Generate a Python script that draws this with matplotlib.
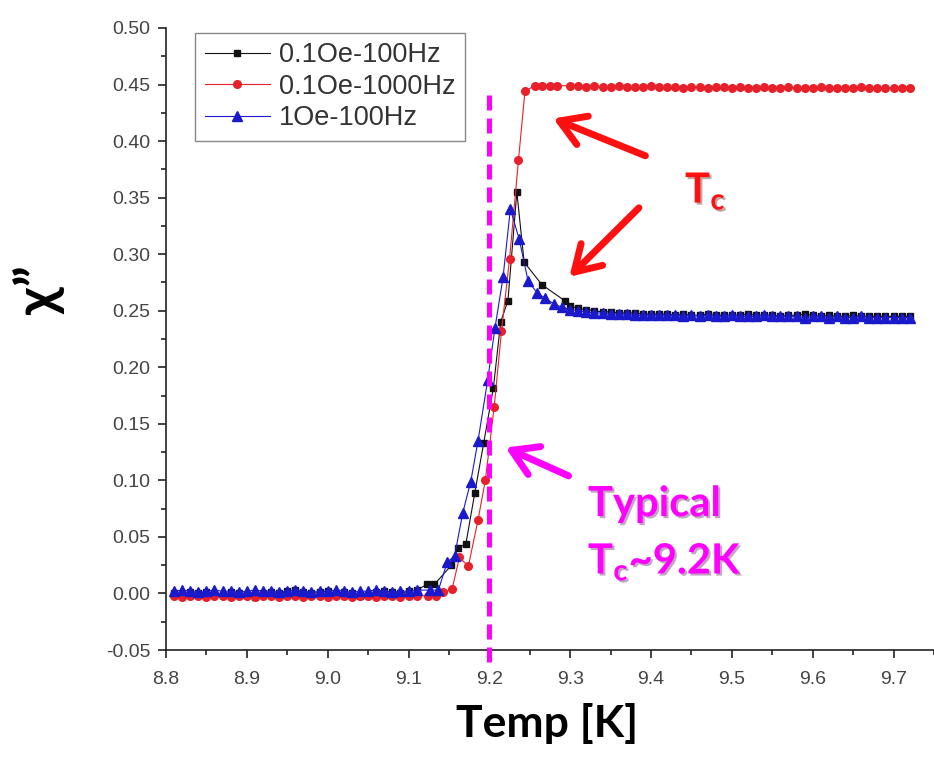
import matplotlib
matplotlib.use("Agg")
import matplotlib.pyplot as plt
import matplotlib.patheffects as pe
from matplotlib.ticker import MultipleLocator, FormatStrFormatter

# shared temperature grids (K) for the flat parts
t_low = [8.81, 8.82, 8.83, 8.84, 8.85, 8.86, 8.87, 8.88, 8.89, 8.90, 8.91,
         8.92, 8.93, 8.94, 8.95, 8.96, 8.97, 8.98, 8.99, 9.00, 9.01, 9.02,
         9.03, 9.04, 9.05, 9.06, 9.07, 9.08, 9.09, 9.10, 9.11]
t_high = [9.30, 9.31, 9.32, 9.33, 9.34, 9.35, 9.36, 9.37, 9.38, 9.39, 9.40,
          9.41, 9.42, 9.43, 9.44, 9.45, 9.46, 9.47, 9.48, 9.49, 9.50, 9.51,
          9.52, 9.53, 9.54, 9.55, 9.56, 9.57, 9.58, 9.59, 9.60, 9.61, 9.62,
          9.63, 9.64, 9.65, 9.66, 9.67, 9.68, 9.69, 9.70, 9.71, 9.72]

# 0.1Oe-100Hz
black_low = [0.000, -0.001, 0.001, 0.000, 0.001, 0.000, -0.001, 0.001, 0.000, -0.001, -0.003,
             0.000, 0.001, 0.000, 0.002, 0.003, 0.001, 0.000, 0.001, 0.002, 0.000, 0.001,
             0.000, -0.002, -0.001, 0.001, 0.002, 0.001, 0.000, 0.002, 0.003]
black_t_mid = [9.123, 9.132, 9.153, 9.161, 9.171, 9.182, 9.193, 9.205, 9.214, 9.223,
               9.234, 9.243, 9.265, 9.293]
black_mid = [0.008, 0.008, 0.025, 0.040, 0.044, 0.089, 0.133, 0.182, 0.240, 0.259,
             0.355, 0.293, 0.273, 0.259]
black_high = [0.254, 0.252, 0.251, 0.250, 0.249, 0.249, 0.248, 0.248, 0.248, 0.247, 0.247,
              0.247, 0.247, 0.246, 0.247, 0.246, 0.246, 0.247, 0.246, 0.246, 0.246, 0.246,
              0.247, 0.246, 0.246, 0.246, 0.245, 0.246, 0.246, 0.247, 0.246, 0.245, 0.246,
              0.245, 0.245, 0.246, 0.245, 0.245, 0.245, 0.245, 0.245, 0.245, 0.245]

# 0.1Oe-1000Hz
red_low = [-0.002, -0.003, -0.002, -0.002, -0.003, -0.002, -0.002, -0.003, -0.002, -0.002, -0.003,
           -0.002, -0.002, -0.003, -0.002, -0.002, -0.003, -0.002, -0.002, -0.003, -0.002, -0.002,
           -0.003, -0.002, -0.002, -0.003, -0.002, -0.002, -0.003, -0.002, -0.002]
red_t_mid = [9.124, 9.134, 9.143, 9.154, 9.163, 9.174, 9.186, 9.195, 9.206, 9.215,
             9.225, 9.236, 9.244, 9.256, 9.265, 9.275, 9.284]
red_mid = [-0.002, -0.002, 0.001, 0.004, 0.032, 0.024, 0.065, 0.100, 0.165, 0.232,
           0.296, 0.383, 0.444, 0.449, 0.449, 0.449, 0.449]
red_high = [0.449, 0.449, 0.448, 0.449, 0.448, 0.448, 0.449, 0.448, 0.448, 0.448, 0.449,
            0.448, 0.448, 0.448, 0.447, 0.448, 0.448, 0.447, 0.448, 0.448, 0.447, 0.448,
            0.447, 0.447, 0.448, 0.447, 0.447, 0.448, 0.447, 0.447, 0.447, 0.448, 0.447,
            0.447, 0.447, 0.447, 0.448, 0.447, 0.447, 0.447, 0.447, 0.447, 0.447]

# 1Oe-100Hz
blue_low = [0.002, 0.003, 0.002, 0.001, 0.002, 0.003, 0.002, 0.002, 0.001, 0.002, 0.003,
            0.002, 0.002, 0.001, 0.002, 0.003, 0.002, 0.001, 0.002, 0.002, 0.003, 0.002,
            0.001, 0.002, 0.002, 0.003, 0.002, 0.001, 0.002, 0.002, 0.003]
blue_t_mid = [9.126, 9.137, 9.148, 9.157, 9.167, 9.177, 9.186, 9.198, 9.207, 9.217,
              9.226, 9.237, 9.248, 9.259, 9.269, 9.280, 9.290]
blue_mid = [0.003, 0.003, 0.028, 0.033, 0.071, 0.099, 0.135, 0.189, 0.235, 0.280,
            0.340, 0.313, 0.276, 0.266, 0.261, 0.256, 0.253]
blue_high = [0.251, 0.250, 0.249, 0.248, 0.248, 0.247, 0.247, 0.247, 0.246, 0.246, 0.246,
             0.246, 0.246, 0.246, 0.245, 0.246, 0.245, 0.246, 0.245, 0.245, 0.246, 0.245,
             0.245, 0.245, 0.246, 0.245, 0.245, 0.245, 0.245, 0.244, 0.245, 0.245, 0.244,
             0.245, 0.244, 0.244, 0.245, 0.244, 0.244, 0.244, 0.244, 0.244, 0.244]

labels = ['0.1Oe-100Hz', '0.1Oe-1000Hz', '1Oe-100Hz']
tc_typical = 9.2

bold_font = ['Lato', 'DejaVu Sans']
plt.rcParams['font.family'] = ['Liberation Sans', 'DejaVu Sans']

fig = plt.figure(figsize=(9.34, 7.67), dpi=100)
ax = fig.add_axes([0.1777, 0.1525, 0.8223, 0.811])

ax.plot(t_low + black_t_mid + t_high, black_low + black_mid + black_high,
        '-s', color='#111111', lw=0.8, ms=5, label=labels[0])
ax.plot(t_low + red_t_mid + t_high, red_low + red_mid + red_high,
        '-o', color='#e8202a', lw=0.8, ms=5.5, label=labels[1])
ax.plot(t_low + blue_t_mid + t_high, blue_low + blue_mid + blue_high,
        '-^', color='#1a1acc', lw=0.8, ms=6.5, label=labels[2])

ax.set_xlim(8.8, 9.75)
ax.set_ylim(-0.05, 0.50)
ax.xaxis.set_major_locator(MultipleLocator(0.1))
ax.xaxis.set_minor_locator(MultipleLocator(0.05))
ax.yaxis.set_major_locator(MultipleLocator(0.05))
ax.yaxis.set_minor_locator(MultipleLocator(0.025))
ax.xaxis.set_major_formatter(FormatStrFormatter('%.1f'))
ax.yaxis.set_major_formatter(FormatStrFormatter('%.2f'))
ax.tick_params(which='major', direction='out', length=6, width=1.2,
               labelsize=14, labelcolor='#444444', color='#222222')
ax.tick_params(which='minor', direction='out', length=3.5, width=1.2, color='#222222')
ax.tick_params(axis='x', pad=9)
ax.tick_params(axis='y', pad=5)
for side in ['top', 'right']:
    ax.spines[side].set_visible(False)
for side in ['left', 'bottom']:
    ax.spines[side].set_linewidth(1.2)
    ax.spines[side].set_color('#222222')

ax.set_xlabel('Temp [K]', family=bold_font, fontweight='bold', fontsize=32)
ax.xaxis.set_label_coords(0.496, -0.085)
ax.set_ylabel('χ”', family=bold_font, fontweight='bold', fontsize=40)
ax.yaxis.set_label_coords(-0.132, 0.58)

leg = ax.legend(loc='upper left', bbox_to_anchor=(0.038, 0.992), borderaxespad=0,
                fontsize=19.5, handlelength=2.4, handletextpad=0.35, labelspacing=0.2,
                borderpad=0.35, fancybox=False, framealpha=1, edgecolor='#888888')
leg.get_frame().set_linewidth(1.0)
for txt in leg.get_texts():
    txt.set_color('#333333')

# typical Tc marker
ax.plot([tc_typical, tc_typical], [0.441, -0.065], color='#ff00ff', lw=3.6,
        linestyle=(0, (3, 1.6)), clip_on=False, zorder=5)

shadow = [pe.SimplePatchShadow(offset=(1.5, -1.5), alpha=0.35), pe.Normal()]

red_arrow = dict(arrowstyle='->,head_length=0.9,head_width=0.55', color='#ff1010',
                 lw=5, mutation_scale=20, shrinkA=0, shrinkB=0)
ax.annotate('', xy=(9.279, 0.420), xytext=(9.393, 0.387), arrowprops=red_arrow)
ax.annotate('', xy=(9.299, 0.280), xytext=(9.385, 0.341), arrowprops=red_arrow)
ax.text(9.442, 0.356, r'T$_\mathregular{c}$', color='#ff1010', fontsize=30,
        fontweight='bold', family=bold_font, ha='left', va='center', path_effects=shadow)

mag_arrow = dict(red_arrow, color='#ff00ff')
ax.annotate('', xy=(9.220, 0.129), xytext=(9.298, 0.104), arrowprops=mag_arrow)
ax.text(9.322, 0.079, 'Typical', color='#ff00ff', fontsize=30, fontweight='bold',
        family=bold_font, ha='left', va='center', path_effects=shadow)
ax.text(9.322, 0.028, r'T$_\mathregular{c}$~9.2K', color='#ff00ff', fontsize=30,
        fontweight='bold', family=bold_font, ha='left', va='center', path_effects=shadow)

plt.savefig('out.png', dpi=100)
